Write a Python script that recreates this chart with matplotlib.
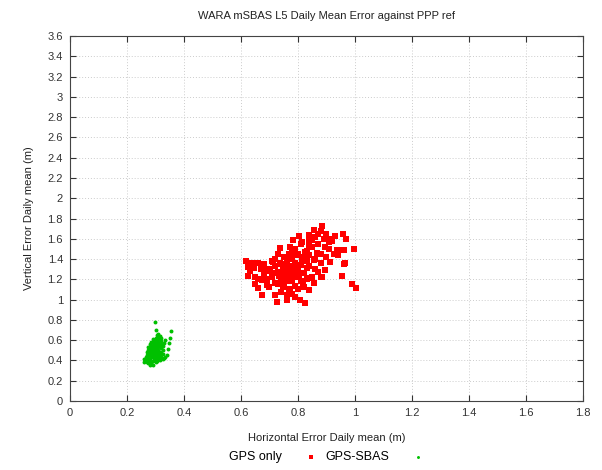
import matplotlib
matplotlib.use("Agg")
import matplotlib.pyplot as plt

plt.rcParams["font.family"] = ["Liberation Sans", "DejaVu Sans"]

TITLE = "WARA mSBAS L5 Daily Mean Error against PPP ref"
X_LABEL = "Horizontal Error Daily mean (m)"
Y_LABEL = "Vertical Error Daily mean (m)"

x_ticks = [0, 0.2, 0.4, 0.6, 0.8, 1, 1.2, 1.4, 1.6, 1.8]
y_ticks = [0, 0.2, 0.4, 0.6, 0.8, 1, 1.2, 1.4, 1.6, 1.8, 2, 2.2, 2.4, 2.6, 2.8, 3, 3.2, 3.4, 3.6]

# GPS only (horizontal, vertical) daily means
gps_only_h = [
    0.883, 0.855, 0.958, 0.931, 0.899, 0.869, 0.837, 0.802, 0.784, 0.814,
    0.910, 0.849, 0.773, 0.738, 0.837, 0.896, 0.937, 0.960, 0.998, 0.925,
    0.866, 0.825, 0.796, 0.779, 0.618, 0.661, 0.679, 0.714, 0.767, 0.814,
    0.855, 0.913, 0.964, 0.626, 0.644, 0.679, 0.702, 0.738, 0.749, 0.796,
    0.831, 0.896, 0.626, 0.650, 0.673, 0.714, 0.732, 0.767, 0.802, 0.843,
    0.881, 0.954, 0.661, 0.673, 0.691, 0.720, 0.720, 0.749, 0.773, 0.726,
    0.761, 0.790, 0.808, 0.825, 0.837, 0.989, 1.005, 0.779, 0.819, 0.855,
    0.70, 0.71, 0.72, 0.73, 0.74, 0.74, 0.75, 0.75, 0.75, 0.76,
    0.76, 0.76, 0.77, 0.77, 0.77, 0.78, 0.78, 0.78, 0.79, 0.79,
    0.79, 0.80, 0.80, 0.81, 0.81, 0.82, 0.82, 0.83, 0.83, 0.84,
    0.84, 0.85, 0.86, 0.86, 0.87, 0.88, 0.88, 0.89, 0.90, 0.91,
    0.72, 0.73, 0.74, 0.76, 0.78, 0.80, 0.82, 0.69, 0.68, 0.67,
    0.66, 0.64, 0.63, 0.65, 0.70, 0.71, 0.77, 0.79, 0.81, 0.84,
    0.86, 0.88, 0.92, 0.94, 0.97, 0.85, 0.87, 0.83, 0.75, 0.73,
    0.911, 0.939, 0.927, 0.962, 0.884, 0.957,
]
gps_only_v = [
    1.73, 1.69, 1.65, 1.63, 1.65, 1.65, 1.64, 1.63, 1.59, 1.57,
    1.57, 1.59, 1.52, 1.51, 1.52, 1.52, 1.49, 1.49, 1.50, 1.45,
    1.46, 1.47, 1.44, 1.46, 1.38, 1.36, 1.35, 1.37, 1.41, 1.39,
    1.39, 1.37, 1.36, 1.32, 1.31, 1.29, 1.28, 1.36, 1.32, 1.32,
    1.31, 1.29, 1.23, 1.22, 1.19, 1.26, 1.23, 1.24, 1.23, 1.21,
    1.22, 1.23, 1.11, 1.05, 1.14, 1.16, 1.05, 1.12, 1.08, 0.98,
    1.00, 1.03, 1.00, 0.97, 1.09, 1.15, 1.11, 1.18, 1.14, 1.16,
    1.30, 1.22, 1.33, 1.27, 1.20, 1.35, 1.30, 1.25, 1.15, 1.38,
    1.28, 1.21, 1.33, 1.18, 1.10, 1.30, 1.25, 1.40, 1.36, 1.22,
    1.13, 1.28, 1.45, 1.34, 1.18, 1.42, 1.26, 1.38, 1.48, 1.33,
    1.44, 1.52, 1.40, 1.30, 1.55, 1.45, 1.36, 1.60, 1.42, 1.50,
    1.40, 1.15, 1.08, 1.05, 1.06, 1.10, 1.12, 1.20, 1.25, 1.30,
    1.20, 1.36, 1.28, 1.15, 1.12, 1.38, 1.45, 1.50, 1.55, 1.58,
    1.62, 1.68, 1.58, 1.44, 1.60, 1.22, 1.27, 1.20, 1.42, 1.45,
    1.60, 1.49, 1.45, 1.35, 1.22, 1.65,
]

# GPS-SBAS
sbas_h = [
    0.27, 0.275, 0.28, 0.285, 0.26, 0.265, 0.27, 0.275, 0.28, 0.29,
    0.295, 0.30, 0.305, 0.31, 0.27, 0.275, 0.28, 0.285, 0.29, 0.295,
    0.30, 0.305, 0.31, 0.315, 0.32, 0.27, 0.275, 0.28, 0.285, 0.29,
    0.295, 0.30, 0.305, 0.31, 0.315, 0.32, 0.275, 0.28, 0.285, 0.29,
    0.295, 0.30, 0.305, 0.31, 0.315, 0.32, 0.325, 0.28, 0.285, 0.29,
    0.295, 0.30, 0.305, 0.31, 0.315, 0.32, 0.29, 0.30, 0.31, 0.305,
    0.31, 0.30, 0.299, 0.354, 0.351, 0.349, 0.345, 0.340, 0.33, 0.325,
    0.265, 0.27, 0.28, 0.29, 0.295, 0.30, 0.285, 0.29, 0.295, 0.30,
    0.31, 0.32, 0.325, 0.33, 0.335, 0.315, 0.32, 0.285, 0.275, 0.26,
    0.30, 0.31, 0.315, 0.325, 0.335,
]
sbas_v = [
    0.38, 0.37, 0.38, 0.37, 0.38, 0.40, 0.42, 0.40, 0.41, 0.39,
    0.40, 0.38, 0.39, 0.41, 0.45, 0.44, 0.46, 0.43, 0.44, 0.45,
    0.43, 0.44, 0.46, 0.44, 0.43, 0.48, 0.50, 0.49, 0.48, 0.50,
    0.47, 0.49, 0.48, 0.50, 0.48, 0.47, 0.53, 0.52, 0.54, 0.53,
    0.55, 0.52, 0.54, 0.53, 0.55, 0.52, 0.50, 0.56, 0.58, 0.57,
    0.59, 0.57, 0.60, 0.58, 0.61, 0.59, 0.61, 0.62, 0.63, 0.65,
    0.66, 0.70, 0.78, 0.69, 0.62, 0.57, 0.51, 0.45, 0.42, 0.46,
    0.43, 0.39, 0.36, 0.36, 0.42, 0.46, 0.51, 0.47, 0.51, 0.54,
    0.56, 0.56, 0.54, 0.57, 0.60, 0.64, 0.62, 0.45, 0.47, 0.41,
    0.41, 0.43, 0.40, 0.41, 0.43,
]

fig = plt.figure(figsize=(6.02, 4.70), dpi=100)
ax = fig.add_axes([0.1163, 0.1468, 0.8521, 0.7766])

ax.scatter(gps_only_h, gps_only_v, marker="s", s=14, color="#ff0000",
           linewidths=0, label="GPS only", zorder=3)
ax.scatter(sbas_h, sbas_v, marker="o", s=8, color="#00c000",
           linewidths=0, label="GPS-SBAS", zorder=3)

ax.set_xlim(0, 1.8)
ax.set_ylim(0, 3.6)
ax.set_xticks(x_ticks)
ax.set_xticklabels([f"{t:g}" for t in x_ticks])
ax.set_yticks(y_ticks)
ax.set_yticklabels([f"{t:g}" for t in y_ticks])
ax.tick_params(direction="in", length=4, width=0.8, top=True, right=True,
               labelsize=8, colors="#333333", pad=5)
ax.grid(True, linestyle=(0, (1, 2)), color="#cccccc", linewidth=0.7)
for spine in ax.spines.values():
    spine.set_color("#444444")
    spine.set_linewidth(0.8)

ax.set_title(TITLE, fontsize=8, color="#222222", pad=12)
ax.set_xlabel(X_LABEL, fontsize=8, color="#222222", labelpad=11)
ax.set_ylabel(Y_LABEL, fontsize=8, color="#222222", labelpad=10)

fig.legend(loc="center", bbox_to_anchor=(0.548, 0.028), ncol=2,
           markerfirst=False, frameon=False, fontsize=9,
           handlelength=2.0, handletextpad=1.3, columnspacing=0.2,
           markerscale=0.75)

fig.savefig("out.png", dpi=100)
